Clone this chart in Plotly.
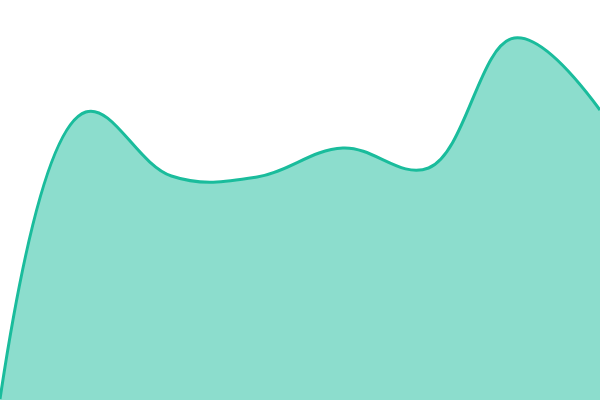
import plotly.graph_objects as go

# evenly spaced samples across the width
x_vals = [0, 1, 2, 3, 4, 5, 6, 7]
y_vals = [1, 288, 224, 223, 252, 232, 362, 290]

fig = go.Figure()
fig.add_trace(go.Scatter(
    x=x_vals, y=y_vals,
    mode="lines",
    line=dict(color="#1abc9c", width=3, shape="spline", smoothing=1.1),
    fill="tozeroy",
    fillcolor="rgba(26,188,156,0.5)",
    hoverinfo="skip",
))

fig.update_layout(
    width=600, height=400,
    margin=dict(l=0, r=0, t=0, b=0),
    paper_bgcolor="white", plot_bgcolor="white",
    showlegend=False,
    xaxis=dict(visible=False, range=[0, 7]),
    yaxis=dict(visible=False, range=[0, 400]),
)

# drop the page's default body margin so the chart fills the window
fig.write_html("out.html", config={"displayModeBar": False},
               post_script="document.body.style.margin='0';document.body.style.overflow='hidden';")
